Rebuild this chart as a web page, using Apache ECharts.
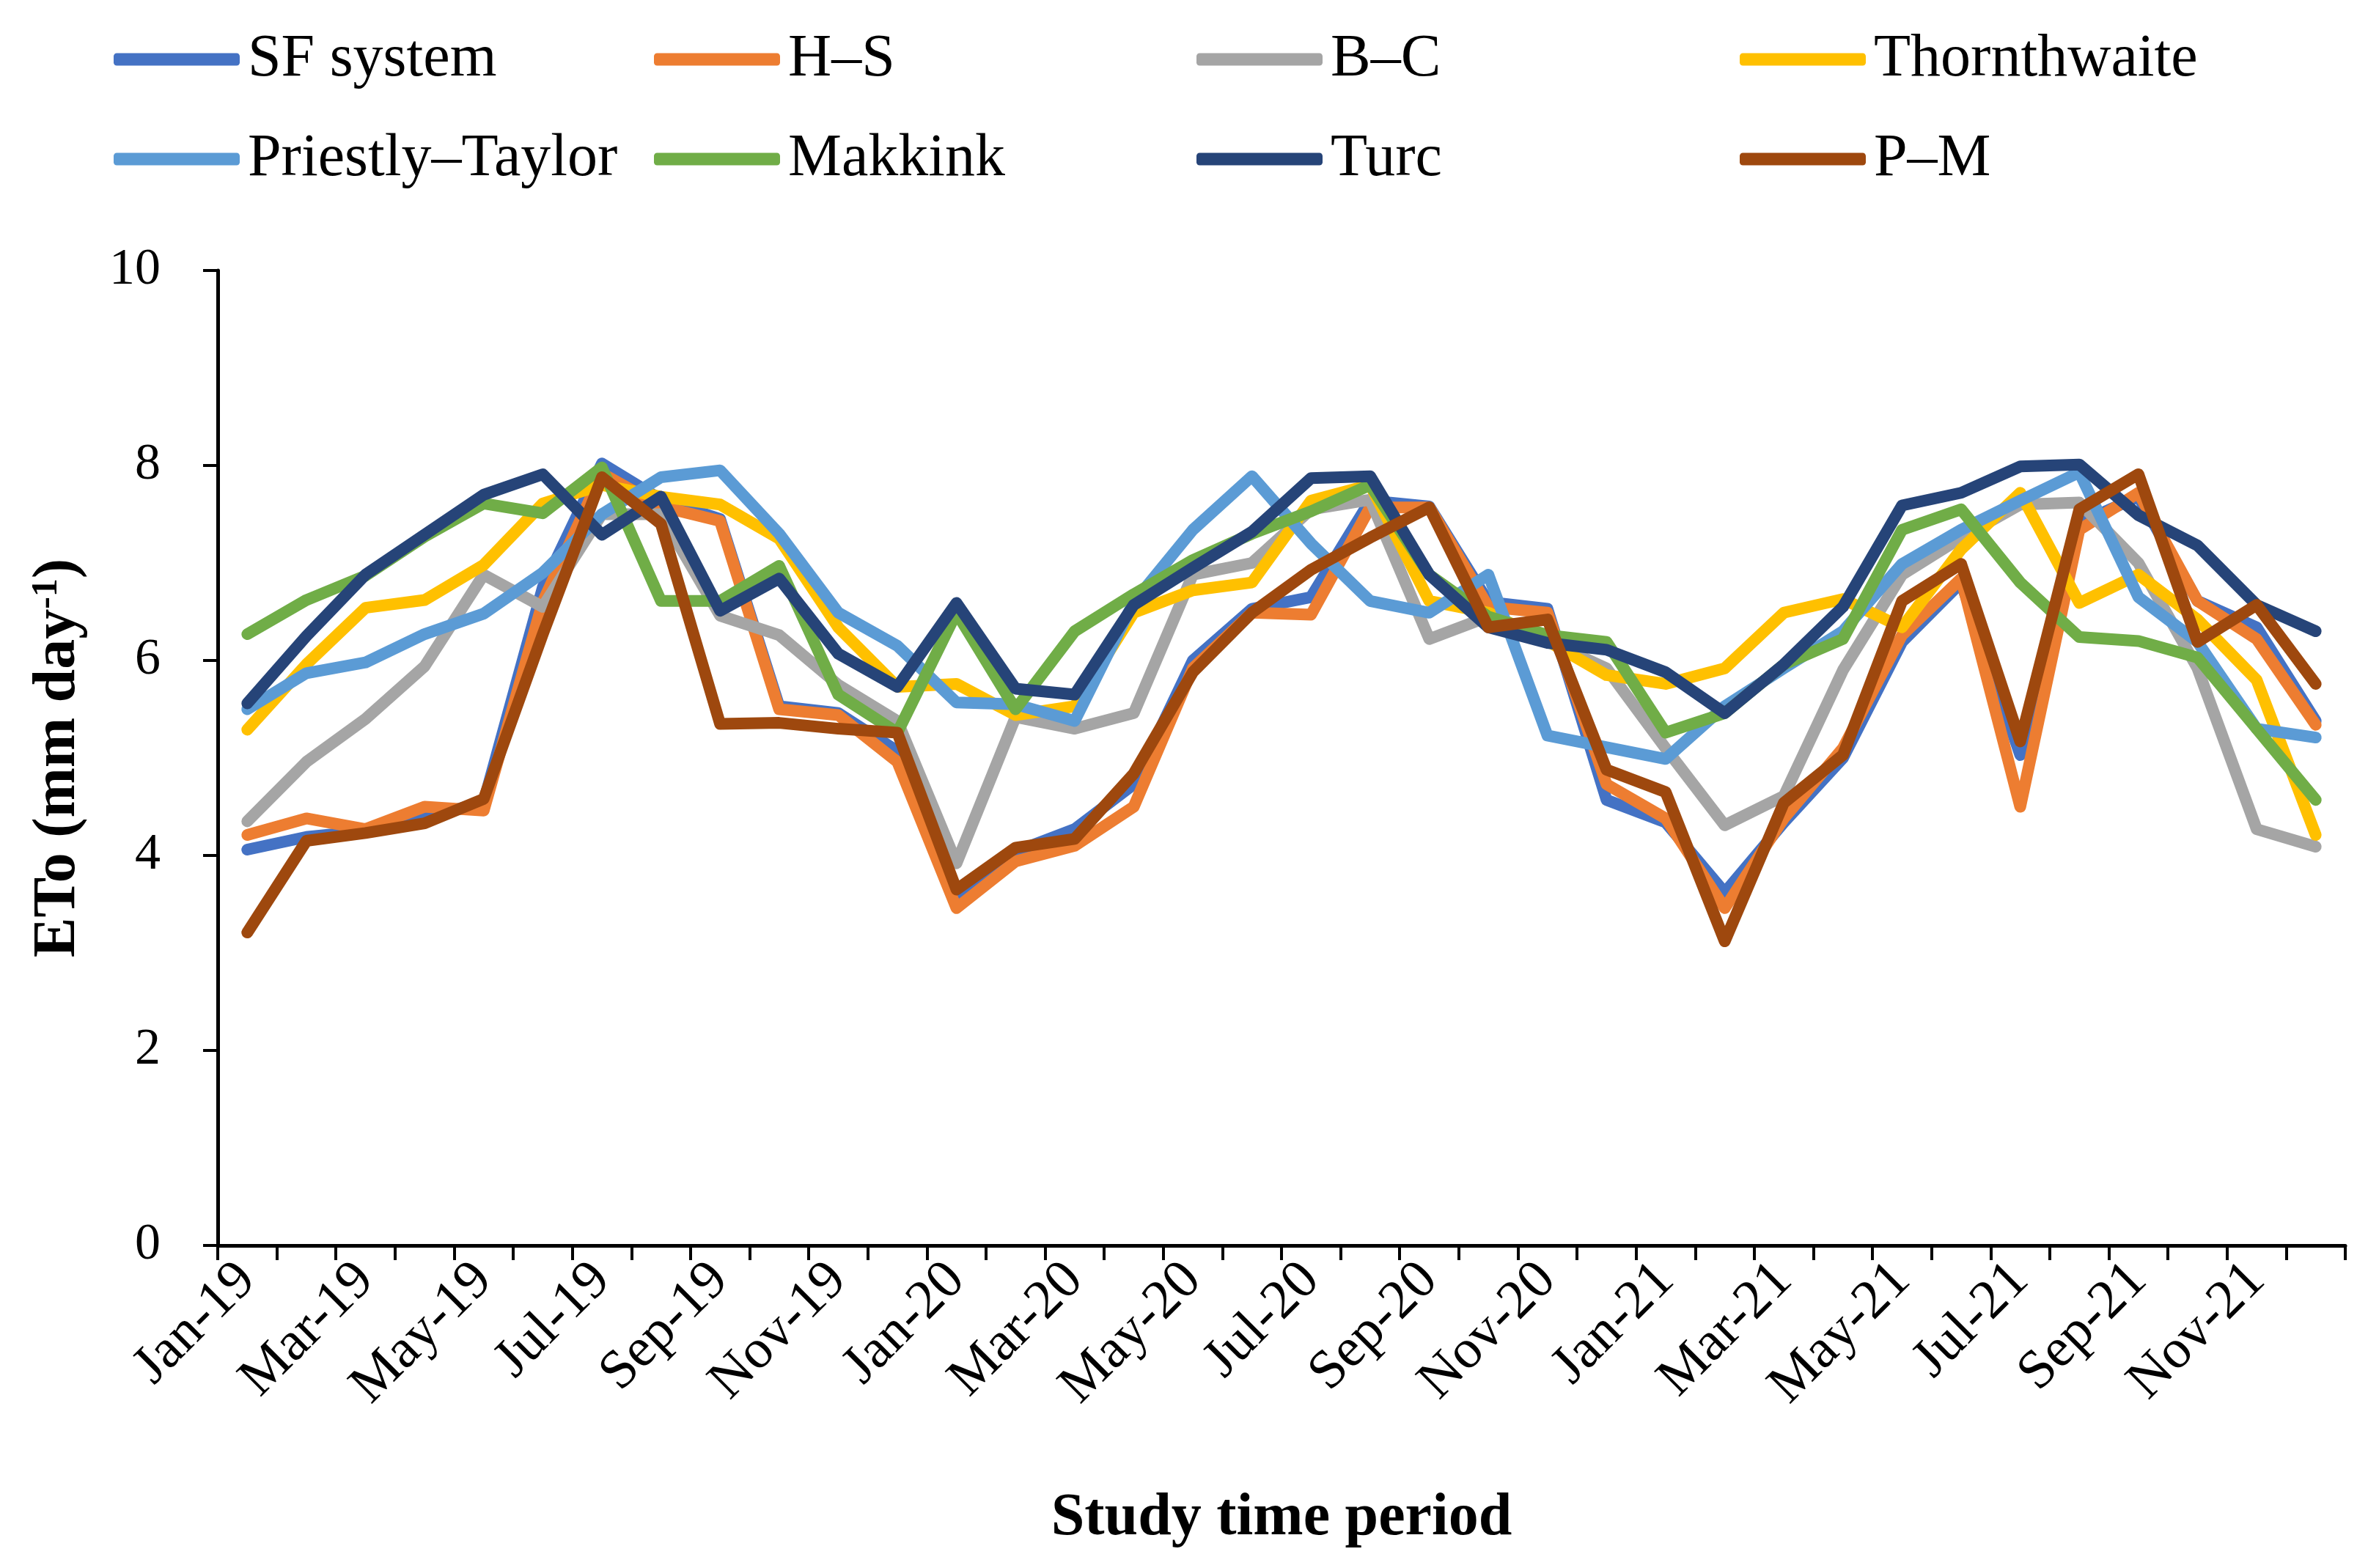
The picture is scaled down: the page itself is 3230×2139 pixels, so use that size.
<!DOCTYPE html>
<html>
<head>
<meta charset="utf-8">
<script src="https://cdn.jsdelivr.net/npm/echarts@6/dist/echarts.min.js"></script>
<style>
html,body{margin:0;padding:0;background:#fff;}
#chart{width:3230px;height:2139px;}
</style>
</head>
<body>
<div id="chart"></div>
<script>
const categories = ['Jan-19','Feb-19','Mar-19','Apr-19','May-19','Jun-19','Jul-19','Aug-19','Sep-19','Oct-19','Nov-19','Dec-19',
  'Jan-20','Feb-20','Mar-20','Apr-20','May-20','Jun-20','Jul-20','Aug-20','Sep-20','Oct-20','Nov-20','Dec-20',
  'Jan-21','Feb-21','Mar-21','Apr-21','May-21','Jun-21','Jul-21','Aug-21','Sep-21','Oct-21','Nov-21','Dec-21'];

const sfSystem = [4.06,4.19,4.25,4.38,4.55,6.75,8.02,7.65,7.45,5.53,5.46,5.07,
  3.58,4.04,4.27,4.73,6.00,6.53,6.65,7.64,7.58,6.60,6.53,4.57,
  4.34,3.62,4.34,5.00,6.19,6.80,5.03,7.41,7.68,6.61,6.34,5.38];
const hs = [4.21,4.38,4.27,4.50,4.46,6.60,7.92,7.58,7.43,5.50,5.44,4.96,
  3.46,3.94,4.10,4.50,5.92,6.49,6.47,7.57,7.57,6.55,6.49,4.73,
  4.38,3.46,4.38,5.10,6.26,6.84,4.50,7.34,7.72,6.61,6.22,5.34];
const bc = [4.35,4.96,5.40,5.94,6.88,6.55,7.50,7.50,6.46,6.26,5.75,5.38,
  3.92,5.42,5.30,5.46,6.88,7.00,7.55,7.65,6.22,6.45,6.20,5.92,
  5.10,4.31,4.61,5.90,6.88,7.26,7.60,7.62,7.00,5.92,4.27,4.09];
const thornthwaite = [5.29,5.96,6.54,6.62,6.98,7.61,7.80,7.68,7.60,7.25,6.34,5.73,
  5.76,5.44,5.53,6.49,6.72,6.80,7.64,7.80,6.61,6.49,6.20,5.85,
  5.76,5.92,6.49,6.63,6.34,7.14,7.72,6.59,6.88,6.42,5.80,4.21];
const priestlyTaylor = [5.50,5.87,5.98,6.27,6.48,6.90,7.50,7.88,7.95,7.30,6.49,6.15,
  5.57,5.55,5.38,6.60,7.34,7.89,7.20,6.61,6.49,6.88,5.23,5.11,
  4.99,5.53,5.92,6.30,6.99,7.34,7.64,7.93,6.65,6.19,5.30,5.21];
const makkink = [6.27,6.62,6.87,7.27,7.61,7.51,7.98,6.61,6.61,6.97,5.65,5.26,
  6.49,5.50,6.30,6.68,7.03,7.30,7.53,7.80,6.88,6.45,6.26,6.19,
  5.26,5.46,5.96,6.22,7.34,7.55,6.80,6.24,6.20,6.03,5.30,4.57];
const turc = [5.56,6.25,6.88,7.29,7.70,7.91,7.29,7.68,6.51,6.84,6.07,5.73,
  6.59,5.71,5.65,6.57,6.95,7.32,7.87,7.89,6.88,6.34,6.18,6.11,
  5.88,5.46,5.96,6.55,7.59,7.72,7.99,8.01,7.49,7.18,6.57,6.30];
const pm = [3.21,4.15,4.23,4.33,4.58,6.27,7.88,7.40,5.35,5.36,5.30,5.26,
  3.65,4.08,4.17,4.84,5.88,6.49,6.93,7.26,7.57,6.34,6.42,4.88,
  4.65,3.12,4.54,5.03,6.61,6.99,5.17,7.55,7.91,6.19,6.57,5.76];

const seriesNames = ['SF system','H–S','B–C','Thornthwaite','Priestly–Taylor','Makkink','Turc','P–M'];
const seriesData = [sfSystem, hs, bc, thornthwaite, priestlyTaylor, makkink, turc, pm];
const colors = ['#4472C4','#ED7D31','#A5A5A5','#FFC000','#5B9BD5','#70AD47','#264478','#9E480E'];

const FONT = '"Liberation Serif","Times New Roman",serif';
const legendLeft = [155, 892, 1632, 2373];
const legendTop = [40, 176];

const legends = seriesNames.map((n, i) => ({
  data: [n],
  left: legendLeft[i % 4],
  top: legendTop[Math.floor(i / 4)],
  orient: 'horizontal',
  padding: 0,
  icon: 'roundRect',
  itemWidth: 172,
  itemHeight: 17,
  selectedMode: false,
  textStyle: {fontFamily: FONT, fontSize: 82, color: '#000', padding: [0, 0, 0, 6]}
}));

const chart = echarts.init(document.getElementById('chart'), null, {renderer: 'canvas'});
chart.setOption({
  backgroundColor: '#fff',
  animation: false,
  color: colors,
  legend: legends,
  grid: {left: 297, right: 31, top: 369, bottom: 440, containLabel: false},
  xAxis: {
    type: 'category',
    data: categories,
    boundaryGap: true,
    axisLine: {lineStyle: {color: '#000', width: 5}},
    axisTick: {show: true, inside: false, length: 20, interval: 0, lineStyle: {color: '#000', width: 4}},
    axisLabel: {interval: 1, rotate: 45, margin: 36, fontFamily: FONT, fontSize: 75, color: '#000'},
    name: 'Study time period',
    nameLocation: 'middle',
    nameGap: 332,
    nameTextStyle: {fontFamily: FONT, fontSize: 82, fontWeight: 'bold', color: '#000'}
  },
  yAxis: {
    type: 'value',
    min: 0, max: 10, interval: 2,
    splitLine: {show: false},
    axisLine: {show: true, lineStyle: {color: '#000', width: 5}},
    axisTick: {show: true, inside: false, length: 20, lineStyle: {color: '#000', width: 4}},
    axisLabel: {margin: 78, fontFamily: FONT, fontSize: 70, color: '#000'},
    name: '{a|ETo (mm day}{s|-1}{a|)}',
    nameLocation: 'middle',
    nameGap: 176,
    nameRotate: 90,
    nameTextStyle: {
      rich: {
        a: {fontFamily: FONT, fontSize: 82, fontWeight: 'bold', color: '#000'},
        s: {fontFamily: FONT, fontSize: 50, fontWeight: 'bold', color: '#000', verticalAlign: 'top', padding: [0, 0, 30, 0]}
      }
    }
  },
  series: seriesNames.map((n, i) => ({
    name: n,
    type: 'line',
    data: seriesData[i],
    showSymbol: false,
    symbol: 'none',
    lineStyle: {width: 16, color: colors[i], cap: 'round', join: 'round'},
    itemStyle: {color: colors[i]}
  }))
});
</script>
</body>
</html>
